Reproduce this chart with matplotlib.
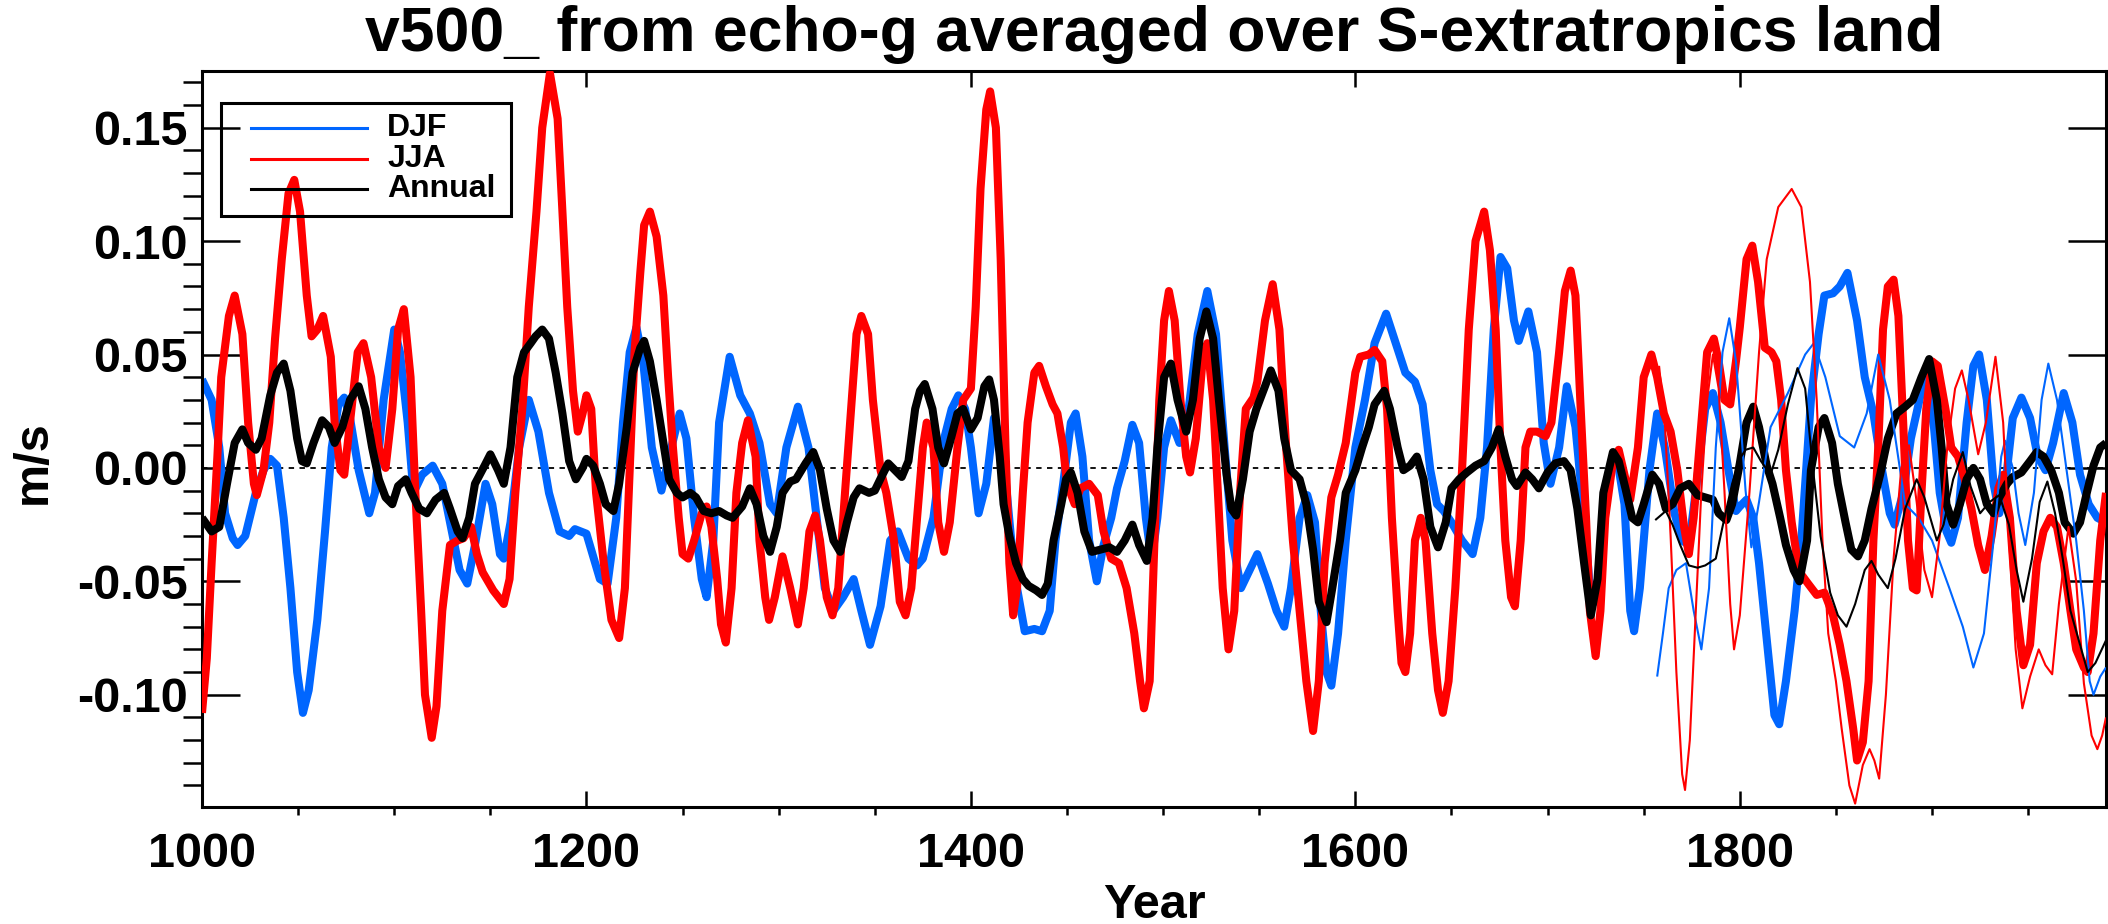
import matplotlib
matplotlib.use("Agg")
import matplotlib.pyplot as plt
from matplotlib.patches import Rectangle
import numpy as np

plt.rcParams['font.family'] = ['Liberation Sans', 'DejaVu Sans']
plt.rcParams['font.weight'] = 'bold'
plt.rcParams['axes.unicode_minus'] = False

TITLE = "v500_ from echo-g averaged over S-extratropics land"
XLABEL = "Year"
YLABEL = "m/s"
SERIES_NAMES = ["DJF", "JJA", "Annual"]
XTICKS = [1000, 1200, 1400, 1600, 1800]
YTICKS = [-0.10, -0.05, 0.00, 0.05, 0.10, 0.15]

# ---- thick (long simulation) series: (year, value) ----
djf_thick = [
    (1000, 0.039), (1005, 0.030), (1009, 0.009), (1012, -0.020), (1016, -0.031), (1018.5, -0.034),
    (1022.5, -0.030), (1028, -0.011), (1032, -0.001), (1035.5, 0.004), (1039, 0.001), (1042.5, -0.022),
    (1046, -0.053), (1049.5, -0.090), (1052.5, -0.108), (1055.5, -0.098), (1060, -0.067), (1064, -0.028),
    (1067.5, 0.009), (1071, 0.028), (1074, 0.031), (1077, 0.022), (1081.5, -0.001), (1087, -0.020),
    (1090, -0.011), (1094.5, 0.030), (1100, 0.061), (1103, 0.051), (1107, 0.020), (1110, -0.011),
    (1114.5, -0.003), (1120, 0.001), (1125, -0.007), (1130, -0.028), (1134, -0.045), (1138, -0.051),
    (1142, -0.034), (1147.5, -0.007), (1151, -0.016), (1155, -0.038), (1157, -0.040), (1160.5, -0.024),
    (1165, 0.009), (1170, 0.030), (1175, 0.016), (1180.5, -0.011), (1186, -0.028), (1191, -0.030),
    (1194, -0.027), (1200, -0.029), (1207, -0.049), (1211, -0.051), (1215.5, -0.022), (1219, 0.020),
    (1222.5, 0.051), (1226, 0.062), (1229.5, 0.047), (1234, 0.009), (1239, -0.010), (1243, 0.005),
    (1248.5, 0.024), (1252, 0.013), (1256, -0.022), (1260, -0.049), (1262.5, -0.057), (1266, -0.032),
    (1269, 0.020), (1274.5, 0.049), (1280, 0.032), (1285, 0.024), (1290, 0.011), (1295.5, -0.016),
    (1299, -0.020), (1304, 0.009), (1310, 0.027), (1315.5, 0.009), (1320, -0.024), (1324, -0.053),
    (1328.5, -0.063), (1333.5, -0.057), (1339, -0.049), (1343, -0.063), (1347.5, -0.078), (1353, -0.061),
    (1358, -0.032), (1362, -0.028), (1367.5, -0.040), (1372, -0.043), (1375, -0.040), (1380.5, -0.022),
    (1385.5, 0.011), (1390, 0.026), (1393.5, 0.032), (1397, 0.026), (1400, 0.009), (1404, -0.020),
    (1408, -0.007), (1412, 0.022), (1416.5, 0.009), (1421, -0.032), (1424, -0.053), (1428, -0.072),
    (1433, -0.071), (1437, -0.072), (1441, -0.063), (1444, -0.032), (1448, -0.007), (1452, 0.020),
    (1454.5, 0.024), (1458, 0.005), (1461.5, -0.032), (1465.5, -0.050), (1469, -0.034), (1473, -0.022),
    (1476, -0.009), (1480, 0.003), (1484, 0.019), (1487.5, 0.011), (1491, -0.022), (1494, -0.041),
    (1497, -0.022), (1500.5, 0.009), (1504, 0.021), (1508.5, 0.011), (1513, 0.024), (1518, 0.059),
    (1523, 0.078), (1527.5, 0.059), (1532, 0.009), (1536, -0.032), (1540.5, -0.053), (1545, -0.045),
    (1549, -0.038), (1554.5, -0.051), (1559, -0.063), (1563, -0.070), (1566.5, -0.053), (1571, -0.022),
    (1575, -0.012), (1579, -0.024), (1582, -0.063), (1585, -0.090), (1587.5, -0.096), (1591, -0.073),
    (1595, -0.032), (1600, 0.009), (1605, 0.030), (1610, 0.055), (1616, 0.068), (1621, 0.055),
    (1626, 0.042), (1631, 0.038), (1635, 0.028), (1639, -0.001), (1642.5, -0.016), (1646, -0.019),
    (1650, -0.024), (1655.5, -0.032), (1661, -0.038), (1665, -0.022), (1668.5, 0.009), (1672, 0.061),
    (1675.5, 0.093), (1679, 0.088), (1682.5, 0.065), (1685, 0.056), (1690, 0.069), (1694.5, 0.051),
    (1698, 0.011), (1701.5, -0.007), (1706, 0.009), (1710, 0.036), (1714.5, 0.018), (1719, -0.022),
    (1722, -0.053), (1725, -0.059), (1728.5, -0.032), (1732, -0.001), (1736, 0.005), (1740, -0.016),
    (1743, -0.063), (1745, -0.072), (1748, -0.053), (1753, -0.001), (1757, 0.024), (1761, 0.009),
    (1766, -0.020), (1770, -0.032), (1773.5, -0.034), (1777, -0.011), (1782, 0.026), (1786, 0.033),
    (1790, 0.020), (1794.5, -0.003), (1798, -0.019), (1800, -0.017), (1803.5, -0.014), (1807, -0.022),
    (1810, -0.042), (1815, -0.084), (1818, -0.109), (1820.5, -0.113), (1824, -0.094), (1828.5, -0.063),
    (1832, -0.032), (1834.5, -0.001), (1837, 0.030), (1841, 0.059), (1844, 0.076), (1848.5, 0.077),
    (1852, 0.080), (1856, 0.086), (1861, 0.065), (1865, 0.040), (1869.5, 0.024), (1874, -0.001),
    (1878, -0.020), (1880.5, -0.025), (1885, -0.011), (1889, 0.013), (1894, 0.032), (1897, 0.039),
    (1901, 0.018), (1904, -0.011), (1907.5, -0.028), (1910, -0.033), (1913.5, -0.022), (1918, 0.020),
    (1921.5, 0.045), (1924.5, 0.050), (1928.5, 0.030), (1932, -0.007), (1935, -0.020), (1939, -0.001),
    (1942, 0.022), (1946.5, 0.031), (1951, 0.022), (1955, 0.005), (1959, -0.001), (1963, 0.011),
    (1968.5, 0.033), (1973, 0.020), (1977, -0.003), (1981.5, -0.016), (1986, -0.022), (1990.5, -0.024),
]

jja_thick = [
    (1000, -0.108), (1002.5, -0.084), (1005, -0.042), (1008, 0.005), (1010, 0.040), (1014, 0.067),
    (1017, 0.076), (1021, 0.059), (1024, 0.020), (1027, -0.007), (1028.5, -0.012), (1032, -0.001),
    (1035, 0.020), (1038, 0.057), (1041.5, 0.092), (1045, 0.121), (1048, 0.127), (1051, 0.113),
    (1054.5, 0.076), (1057, 0.058), (1060, 0.061), (1063, 0.067), (1067, 0.049), (1069, 0.020),
    (1072, -0.001), (1074, -0.003), (1077, 0.020), (1081, 0.051), (1084, 0.055), (1088, 0.040),
    (1092, 0.009), (1095.5, 0.000), (1099, 0.026), (1102, 0.061), (1105, 0.070), (1108.5, 0.040),
    (1111, -0.011), (1114, -0.063), (1116, -0.100), (1119.5, -0.119), (1122, -0.105), (1125, -0.063),
    (1129, -0.034), (1133, -0.032), (1136, -0.031), (1140, -0.026), (1143, -0.038), (1146, -0.046),
    (1151.5, -0.054), (1157, -0.060), (1160, -0.049), (1163, -0.011), (1167, 0.030), (1170, 0.071),
    (1174, 0.113), (1177, 0.150), (1181, 0.174), (1185, 0.154), (1187.5, 0.113), (1190, 0.071),
    (1193, 0.034), (1195.5, 0.016), (1198, 0.024), (1200, 0.032), (1202.5, 0.026), (1205, -0.011),
    (1209, -0.042), (1213, -0.067), (1217, -0.075), (1220, -0.053), (1222.5, -0.001), (1225, 0.051),
    (1228, 0.086), (1230, 0.107), (1233, 0.113), (1236.5, 0.102), (1240, 0.076), (1242.5, 0.040),
    (1245, 0.009), (1248, -0.022), (1250, -0.038), (1253, -0.040), (1256, -0.032), (1260, -0.020),
    (1262.5, -0.017), (1265, -0.026), (1268, -0.049), (1270, -0.069), (1272.5, -0.077), (1275.5, -0.053),
    (1278, -0.011), (1281, 0.011), (1284, 0.021), (1288, 0.005), (1290, -0.032), (1293, -0.057),
    (1295, -0.067), (1298, -0.057), (1302, -0.039), (1306, -0.053), (1310, -0.069), (1313, -0.053),
    (1316, -0.028), (1319, -0.021), (1321.5, -0.032), (1325, -0.057), (1328, -0.065), (1331, -0.053),
    (1334.5, -0.011), (1338, 0.030), (1340.5, 0.059), (1343, 0.067), (1346.5, 0.059), (1349, 0.030),
    (1353, -0.001), (1356, -0.011), (1360, -0.032), (1363, -0.059), (1366, -0.065), (1369, -0.053),
    (1372, -0.022), (1375, 0.009), (1377, 0.020), (1380.5, 0.009), (1383, -0.024), (1386, -0.037),
    (1389, -0.024), (1393, 0.009), (1396, 0.030), (1400, 0.035), (1402.5, 0.071), (1405, 0.123),
    (1408, 0.158), (1410, 0.166), (1413, 0.150), (1415.5, 0.092), (1418, 0.009), (1420, -0.042),
    (1422, -0.065), (1424, -0.053), (1427, -0.011), (1429.5, 0.020), (1433, 0.042), (1435.5, 0.045),
    (1439, 0.036), (1442.5, 0.028), (1445, 0.024), (1448, 0.009), (1450, -0.007), (1454, -0.016),
    (1457, -0.009), (1461.5, -0.007), (1466, -0.012), (1469, -0.028), (1473, -0.040), (1477, -0.042),
    (1481, -0.053), (1485, -0.073), (1488, -0.094), (1490, -0.106), (1493, -0.094), (1495.5, -0.032),
    (1498, 0.030), (1500.5, 0.065), (1503, 0.078), (1506, 0.065), (1509, 0.030), (1512, 0.005),
    (1514, -0.002), (1517, 0.013), (1520.5, 0.047), (1523, 0.055), (1526, 0.030), (1528.5, -0.011),
    (1531, -0.053), (1534, -0.080), (1537, -0.063), (1540, -0.011), (1543, 0.026), (1547, 0.031),
    (1549, 0.038), (1553, 0.065), (1557, 0.081), (1560.5, 0.061), (1564, 0.009), (1567.5, -0.032),
    (1571, -0.063), (1574.5, -0.094), (1578, -0.116), (1581, -0.094), (1584, -0.042), (1587.5, -0.013),
    (1591, -0.003), (1595, 0.011), (1600, 0.042), (1602.5, 0.049), (1607, 0.050), (1610, 0.052),
    (1614, 0.047), (1616.5, 0.026), (1619, -0.022), (1622, -0.063), (1624, -0.086), (1626, -0.090),
    (1628.5, -0.073), (1631, -0.032), (1634, -0.022), (1636.5, -0.032), (1640, -0.073), (1643, -0.098),
    (1645.5, -0.108), (1648.5, -0.094), (1652, -0.053), (1655.5, -0.001), (1659, 0.061), (1662.5, 0.100),
    (1667, 0.113), (1670, 0.096), (1673, 0.061), (1675.5, 0.009), (1678, -0.032), (1681, -0.057),
    (1683, -0.061), (1686, -0.032), (1688.5, 0.009), (1691, 0.016), (1694.5, 0.016), (1699, 0.014),
    (1702, 0.020), (1706, 0.051), (1709, 0.078), (1712, 0.087), (1714.5, 0.076), (1717, 0.030),
    (1720, -0.022), (1722, -0.063), (1725, -0.083), (1727.5, -0.063), (1730, -0.022), (1734, 0.003),
    (1737, 0.008), (1740, -0.003), (1743, -0.014), (1747, 0.009), (1750, 0.040), (1754, 0.050),
    (1757, 0.040), (1760.5, 0.024), (1764, 0.016), (1767.5, -0.001), (1771, -0.026), (1773.5, -0.038),
    (1776, -0.022), (1780, 0.020), (1783, 0.051), (1786.5, 0.057), (1789, 0.047), (1792, 0.030),
    (1795, 0.028), (1798, 0.047), (1800, 0.062), (1803.5, 0.092), (1806.5, 0.098), (1809.5, 0.082),
    (1813, 0.053), (1816.5, 0.051), (1819, 0.047), (1821.5, 0.030), (1824, -0.001), (1827, -0.024),
    (1829.5, -0.038), (1832, -0.047), (1835.5, -0.051), (1840, -0.056), (1844, -0.055), (1848.5, -0.065),
    (1852, -0.078), (1855.5, -0.094), (1859, -0.115), (1861, -0.129), (1864, -0.121), (1867, -0.094),
    (1869.5, -0.032), (1872, 0.009), (1874.5, 0.061), (1877, 0.080), (1880, 0.083), (1882.5, 0.067),
    (1885, 0.020), (1887.5, -0.032), (1890, -0.053), (1892, -0.054), (1894.5, -0.011), (1897, 0.026),
    (1900, 0.047), (1903, 0.045), (1907, 0.026), (1910, 0.009), (1913.5, 0.005), (1917, -0.005),
    (1920.5, -0.018), (1924, -0.034), (1927.5, -0.045), (1931, -0.030), (1934.5, -0.009), (1937, -0.003),
    (1940.5, -0.022), (1944, -0.063), (1947.5, -0.087), (1951, -0.078), (1954.5, -0.042), (1958, -0.028),
    (1961.5, -0.022), (1965, -0.026), (1968.5, -0.042), (1972, -0.063), (1975, -0.080), (1979, -0.088),
    (1981, -0.090), (1984, -0.073), (1987.5, -0.032), (1990.5, -0.011),
]

ann_thick = [
    (1000, -0.022), (1005, -0.028), (1009, -0.026), (1013, -0.007), (1017, 0.011), (1021, 0.017),
    (1024, 0.011), (1028, 0.008), (1031, 0.013), (1035.5, 0.032), (1039, 0.042), (1042.5, 0.046),
    (1046, 0.034), (1049.5, 0.013), (1052, 0.003), (1054.5, 0.002), (1058, 0.011), (1062.5, 0.021),
    (1066, 0.018), (1069, 0.011), (1073, 0.018), (1077, 0.030), (1081.5, 0.036), (1085, 0.026),
    (1088.5, 0.009), (1092, -0.005), (1095.5, -0.013), (1099, -0.016), (1102, -0.008), (1106, -0.005),
    (1109, -0.011), (1113, -0.018), (1117, -0.020), (1121.5, -0.014), (1126, -0.011), (1129, -0.018),
    (1133, -0.028), (1135.5, -0.031), (1139, -0.022), (1142, -0.007), (1147, 0.001), (1150, 0.006),
    (1154, -0.001), (1157, -0.007), (1160.5, 0.009), (1164, 0.040), (1167.5, 0.051), (1171, 0.055),
    (1173.5, 0.058), (1177, 0.061), (1180.5, 0.057), (1184, 0.042), (1187.5, 0.024), (1191, 0.003),
    (1194.5, -0.005), (1198, 0.000), (1200, 0.004), (1203.5, 0.001), (1207, -0.007), (1210, -0.016),
    (1214, -0.019), (1217, -0.007), (1221, 0.018), (1224, 0.042), (1228, 0.053), (1230, 0.056),
    (1233, 0.047), (1236.5, 0.030), (1240, 0.011), (1243, -0.005), (1247, -0.011), (1250, -0.013),
    (1254, -0.011), (1257, -0.013), (1261, -0.019), (1265, -0.020), (1269, -0.019), (1273, -0.021),
    (1276, -0.022), (1281, -0.017), (1285, -0.009), (1288.5, -0.016), (1292, -0.030), (1295.5, -0.037),
    (1299, -0.026), (1302, -0.011), (1306, -0.006), (1309, -0.005), (1314, 0.002), (1318, 0.007),
    (1321.5, -0.001), (1325, -0.018), (1328.5, -0.032), (1332, -0.037), (1335.5, -0.024), (1339, -0.013),
    (1342, -0.009), (1347, -0.011), (1350, -0.010), (1354, -0.003), (1357, 0.002), (1360.5, -0.001),
    (1364, -0.004), (1367.5, 0.003), (1371, 0.026), (1373.5, 0.034), (1376, 0.037), (1380, 0.026),
    (1383, 0.009), (1386, 0.002), (1389, 0.011), (1393, 0.024), (1396, 0.026), (1400, 0.017),
    (1403.5, 0.022), (1407, 0.036), (1409.5, 0.039), (1412, 0.030), (1415, 0.005), (1417, -0.016),
    (1420, -0.030), (1423.5, -0.042), (1427, -0.049), (1430, -0.052), (1434, -0.054), (1437, -0.056),
    (1440, -0.051), (1443, -0.032), (1447, -0.016), (1449.5, -0.005), (1452, -0.002), (1455.5, -0.011),
    (1459, -0.028), (1463, -0.037), (1467.5, -0.036), (1472, -0.035), (1476, -0.037), (1480, -0.032),
    (1484, -0.025), (1487.5, -0.034), (1491.5, -0.041), (1494.5, -0.022), (1497, 0.009), (1500.5, 0.040),
    (1504, 0.046), (1507.5, 0.030), (1512, 0.016), (1515.5, 0.030), (1519, 0.057), (1522.5, 0.069),
    (1526, 0.057), (1529, 0.030), (1533, -0.003), (1535.5, -0.018), (1538, -0.021), (1541.5, -0.005),
    (1545, 0.016), (1548.5, 0.026), (1553, 0.036), (1556, 0.043), (1560, 0.034), (1563, 0.013),
    (1566.5, -0.001), (1571, -0.005), (1574.5, -0.016), (1578, -0.036), (1581, -0.059), (1585, -0.068),
    (1588, -0.053), (1592, -0.032), (1595, -0.011), (1600, -0.001), (1603.5, 0.009), (1607, 0.018),
    (1610, 0.028), (1615, 0.034), (1618, 0.026), (1622, 0.009), (1625, -0.001), (1628.5, 0.001),
    (1632, 0.005), (1635.5, -0.005), (1639, -0.026), (1643, -0.035), (1647, -0.024), (1650, -0.009),
    (1654, -0.005), (1658, -0.002), (1662.5, 0.001), (1667, 0.003), (1671, 0.009), (1674.5, 0.017),
    (1678, 0.005), (1681.5, -0.005), (1684, -0.008), (1688.5, -0.002), (1692, -0.005), (1695.5, -0.009),
    (1700, -0.002), (1704, 0.002), (1708.5, 0.003), (1712, -0.001), (1715.5, -0.018), (1719, -0.042),
    (1722.5, -0.065), (1726, -0.049), (1729, -0.011), (1734, 0.007), (1737, 0.003), (1740.5, -0.009),
    (1744, -0.022), (1747, -0.024), (1750, -0.016), (1754.5, -0.003), (1758, -0.007), (1761.5, -0.018),
    (1765, -0.016), (1769, -0.009), (1773.5, -0.007), (1778, -0.012), (1782, -0.013), (1786, -0.014),
    (1789, -0.020), (1793, -0.023), (1796, -0.016), (1800, 0.002), (1803.5, 0.020), (1807, 0.027),
    (1810, 0.018), (1814, 0.001), (1817, -0.007), (1821, -0.022), (1824, -0.034), (1828, -0.045),
    (1831, -0.050), (1835, -0.032), (1837, -0.001), (1841, 0.018), (1844, 0.022), (1848, 0.011),
    (1851, -0.007), (1855, -0.024), (1858, -0.036), (1861.5, -0.039), (1865, -0.032), (1868.5, -0.018),
    (1873, -0.003), (1877, 0.013), (1881.5, 0.024), (1886, 0.027), (1890, 0.030), (1894.5, 0.040),
    (1898.5, 0.048), (1902.5, 0.030), (1905, 0.009), (1907.5, -0.016), (1911, -0.025), (1914.5, -0.016),
    (1918, -0.005), (1921.5, 0.000), (1925, -0.005), (1928.5, -0.016), (1932, -0.020), (1935, -0.013),
    (1939, -0.007), (1942, -0.004), (1946.5, -0.002), (1951, 0.003), (1954.5, 0.007), (1958, 0.005),
    (1962, -0.001), (1966, -0.011), (1969, -0.024), (1973.5, -0.029), (1977, -0.024), (1980.5, -0.011),
    (1984, 0.001), (1987.5, 0.009), (1990.5, 0.011),
]

# ---- thin (short, recent-period) series ----
djf_thin = [
    (1757, -0.092), (1760, -0.073), (1763, -0.053), (1767, -0.045), (1772, -0.042), (1776, -0.063),
    (1780, -0.080), (1784, -0.053), (1787.5, 0.009), (1791, 0.051), (1794.5, 0.066), (1798, 0.047),
    (1800, 0.025), (1803, -0.010), (1806, -0.035), (1810, -0.015), (1816, 0.018), (1825, 0.033),
    (1834, 0.050), (1838.5, 0.055), (1844.5, 0.040), (1852, 0.014), (1859.5, 0.009), (1866, 0.024),
    (1872, 0.050), (1878, 0.030), (1886, -0.016), (1893, -0.022), (1900, -0.032), (1909, -0.053),
    (1916, -0.070), (1921.5, -0.088), (1927, -0.073), (1932, -0.032), (1936, 0.005), (1938, 0.012),
    (1942, 0.000), (1945, -0.020), (1948.5, -0.034), (1953, -0.011), (1957, 0.030), (1960.5, 0.046),
    (1965, 0.030), (1970, -0.001), (1975, -0.032), (1979, -0.063), (1982, -0.094), (1984, -0.100),
    (1987.5, -0.092), (1990.5, -0.088),
]

jja_thin = [
    (1758, 0.045), (1761, 0.020), (1764, -0.030), (1767, -0.090), (1770, -0.135), (1771.5, -0.142),
    (1774, -0.120), (1777, -0.065), (1780, -0.010), (1783, 0.030), (1786, 0.050), (1789, 0.035),
    (1792, -0.010), (1795, -0.060), (1797, -0.080), (1800, -0.065), (1805, -0.011), (1810, 0.051),
    (1814, 0.092), (1820, 0.115), (1827, 0.123), (1832, 0.115), (1836.5, 0.082), (1840, 0.030),
    (1843, -0.032), (1846, -0.073), (1850, -0.094), (1853, -0.115), (1857, -0.140), (1860, -0.148),
    (1864, -0.131), (1867.5, -0.124), (1870, -0.129), (1872.5, -0.137), (1876, -0.100), (1880, -0.040),
    (1884, 0.000), (1888, 0.010), (1892, -0.015), (1896, -0.045), (1900, -0.057), (1904, -0.030),
    (1908, 0.010), (1912, 0.035), (1915.5, 0.043), (1919, 0.030), (1924, 0.006), (1928, 0.020),
    (1933, 0.049), (1937, 0.020), (1940, -0.030), (1943.5, -0.080), (1947, -0.106), (1951, -0.092),
    (1955.5, -0.080), (1959, -0.087), (1962.5, -0.091), (1966, -0.060), (1971, -0.026), (1975, -0.050),
    (1979, -0.095), (1983, -0.118), (1986, -0.124), (1988.5, -0.118), (1990.5, -0.110),
]

ann_thin = [
    (1756, -0.023), (1761.5, -0.019), (1765, -0.025), (1769, -0.034), (1773.5, -0.043), (1778, -0.044),
    (1782, -0.043), (1787.5, -0.040), (1791, -0.026), (1796, -0.007), (1800, 0.004), (1803, 0.008),
    (1807, 0.009), (1811, 0.003), (1816, -0.003), (1820, 0.008), (1825, 0.028), (1830, 0.044),
    (1834, 0.035), (1838, 0.000), (1842, -0.030), (1847, -0.055), (1851, -0.065), (1855.5, -0.070),
    (1860, -0.060), (1865, -0.045), (1868.5, -0.041), (1872, -0.047), (1877, -0.053), (1881, -0.040),
    (1886, -0.018), (1892, -0.005), (1896, -0.013), (1902.5, -0.032), (1906, -0.025), (1911, -0.005),
    (1916, 0.007), (1920, -0.008), (1925, -0.020), (1930, -0.015), (1935, -0.012), (1940, -0.025),
    (1944, -0.045), (1947.5, -0.059), (1952, -0.040), (1956, -0.015), (1960, -0.006), (1964, -0.020),
    (1968, -0.040), (1972, -0.063), (1976, -0.075), (1981, -0.090), (1985, -0.086), (1990.5, -0.076),
]

BLUE = "#0066FF"
RED = "#FF0000"
BLACK = "#000000"

W, H = 2108, 924
fig = plt.figure(figsize=(W / 100, H / 100), dpi=100)
ax = fig.add_axes([202 / W, 1 - 807 / H, (2106 - 202) / W, (807 - 71) / H])

XMIN, XMAX = 1000, 1990.5
YMIN, YMAX = -0.1495, 0.175

ax.plot([XMIN, XMAX], [0, 0], color=BLACK, lw=1.3, dashes=(3, 3), zorder=1)

def draw(series, color, lw, z):
    xs = [p[0] for p in series]
    ys = [p[1] for p in series]
    ax.plot(xs, ys, color=color, lw=lw, solid_joinstyle='round', solid_capstyle='butt', zorder=z)

draw(djf_thick, BLUE, 5.8, 2)
draw(jja_thick, RED, 5.8, 3)
draw(ann_thick, BLACK, 5.8, 4)
draw(djf_thin, BLUE, 1.5, 5)
draw(jja_thin, RED, 1.5, 6)
draw(ann_thin, BLACK, 1.5, 7)

ax.set_xlim(XMIN, XMAX)
ax.set_ylim(YMIN, YMAX)
ax.set_xticks(XTICKS)
ax.set_xticks(np.arange(1050, 1991, 50), minor=True)
ax.set_yticks(YTICKS)
ax.set_yticks(np.arange(-0.14, 0.175, 0.01), minor=True)
ax.set_yticklabels(["%.2f" % v for v in YTICKS])
ax.set_xticklabels([str(v) for v in XTICKS])

for s in ax.spines.values():
    s.set_linewidth(2.2)
ax.tick_params(axis='both', direction='in', top=True, right=True, labelsize=35, width=1.8)
ax.tick_params(axis='x', which='major', length=11.3, pad=18)
ax.tick_params(axis='x', which='minor', length=5.5, width=1.8)
ax.tick_params(axis='y', which='major', length=27.4, pad=10)
ax.tick_params(axis='y', which='minor', length=13.7, width=1.8)
for lab in ax.get_xticklabels() + ax.get_yticklabels():
    lab.set_fontweight('bold')

fig.text((202 + 2106) / 2 / W, 1 - 51 / H, TITLE, ha='center', va='baseline', fontsize=45, fontweight='bold')
fig.text((202 + 2106) / 2 / W, 1 - 918 / H, XLABEL, ha='center', va='baseline', fontsize=35, fontweight='bold')
fig.text(33 / W, 1 - 462 / H, YLABEL, ha='center', va='center', rotation=90, fontsize=35, fontweight='bold')

# legend (drawn in axes coordinates)
ax.add_patch(Rectangle((0.00998, 0.8030), 0.1523, 0.1535, transform=ax.transAxes, fill=False,
                       edgecolor=BLACK, lw=2.2, zorder=10))
leg_line_y = [0.9226, 0.8804, 0.8397]
leg_text_y = [0.9117, 0.8700, 0.8292]
for name, col, ly, ty in zip(SERIES_NAMES, [BLUE, RED, BLACK], leg_line_y, leg_text_y):
    ax.plot([0.0257, 0.0866], [ly, ly], transform=ax.transAxes, color=col, lw=2.2, zorder=11)
    ax.text(0.0972, ty, name, transform=ax.transAxes, fontsize=23, fontweight='bold',
            ha='left', va='baseline', zorder=11)

fig.savefig("out.png", dpi=100)
